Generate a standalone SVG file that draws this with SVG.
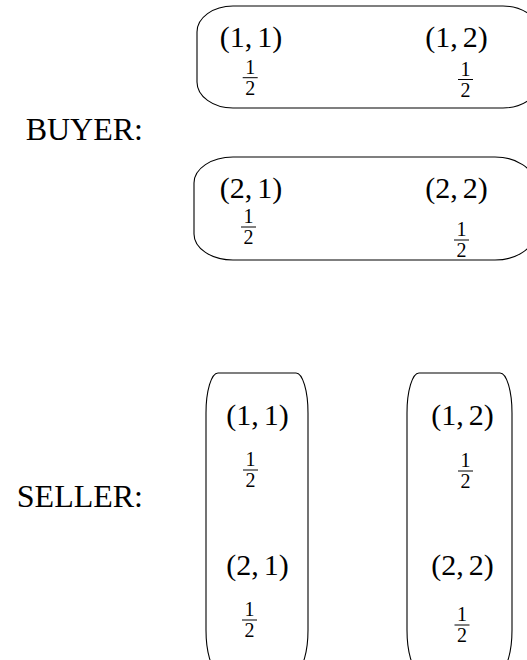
<svg xmlns="http://www.w3.org/2000/svg" width="527" height="660" viewBox="0 0 527 660">
<style>
.box{fill:none;stroke:#000;stroke-width:1.1}
.lbl{font-family:"Liberation Serif","Times New Roman",serif;font-size:32px;fill:#000;text-anchor:end}
.pair{font-family:"Liberation Serif","Times New Roman",serif;font-size:30px;fill:#000;text-anchor:middle}
.fr{font-family:"Liberation Serif","Times New Roman",serif;font-size:20px;fill:#000;text-anchor:middle}
.bar{stroke:#000;stroke-width:1}
</style>
<defs>
<g id="half">
<text class="fr" x="0" y="-4">1</text>
<line class="bar" x1="-7.5" y1="0" x2="7.5" y2="0"/>
<text class="fr" x="0" y="17">2</text>
</g>
</defs>
<rect width="527" height="660" fill="#fff"/>
<g id="labels">
<text class="lbl" x="143" y="140">BUYER:</text>
<text class="lbl" x="143" y="507">SELLER:</text>
</g>
<g id="buyer-row1">
<rect class="box" x="197" y="6" width="342" height="102" rx="36" ry="26"/>
<text class="pair" x="251" y="47">(1,<tspan dx="5">1)</tspan></text>
<text class="pair" x="456.5" y="47">(1,<tspan dx="5">2)</tspan></text>
<use href="#half" x="250.2" y="77.7"/>
<use href="#half" x="465.5" y="79.5"/>
</g>
<g id="buyer-row2">
<rect class="box" x="194" y="157" width="340" height="103" rx="39" ry="26"/>
<text class="pair" x="251" y="198">(2,<tspan dx="5">1)</tspan></text>
<text class="pair" x="456.5" y="198">(2,<tspan dx="5">2)</tspan></text>
<use href="#half" x="248.5" y="227"/>
<use href="#half" x="461.5" y="240"/>
</g>
<g id="seller-col1">
<rect class="box" x="206" y="373" width="102" height="297" rx="12" ry="40"/>
<text class="pair" x="257.5" y="425">(1,<tspan dx="5">1)</tspan></text>
<text class="pair" x="257.5" y="575">(2,<tspan dx="5">1)</tspan></text>
<use href="#half" x="250.5" y="470"/>
<use href="#half" x="249.5" y="620"/>
</g>
<g id="seller-col2">
<rect class="box" x="407" y="373" width="105" height="297" rx="12" ry="40"/>
<text class="pair" x="462.5" y="425">(1,<tspan dx="5">2)</tspan></text>
<text class="pair" x="462.5" y="575">(2,<tspan dx="5">2)</tspan></text>
<use href="#half" x="465.5" y="471"/>
<use href="#half" x="462" y="625"/>
</g>
<g id="connectors"/>
</svg>
